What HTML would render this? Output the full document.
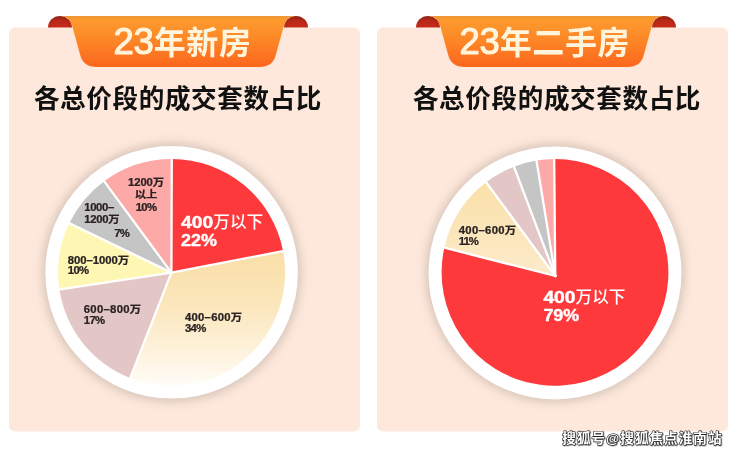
<!DOCTYPE html>
<html lang="zh">
<head>
<meta charset="utf-8">
<title>23年新房 / 23年二手房 各总价段的成交套数占比</title>
<style>
html,body{margin:0;padding:0;background:#fff;}
body{width:740px;height:454px;overflow:hidden;font-family:"Liberation Sans","Noto Sans CJK SC",sans-serif;}
svg{display:block;filter:blur(0.45px);}
text{font-family:"Liberation Sans","Noto Sans CJK SC",sans-serif;}
.bt{font-size:32px;fill:#fff4dc;font-weight:700;letter-spacing:0.6px;}
.bt .dg{font-size:36.5px;font-weight:400;letter-spacing:-0.2px;stroke:#fff4dc;stroke-width:1.1px;stroke-linejoin:round;}
.tt{font-size:25.6px;font-weight:bold;fill:#111;}
.lb{font-size:10.3px;fill:#2a2222;font-weight:bold;stroke:#2a2222;stroke-width:0.25px;}
.lw{font-size:16.6px;fill:#fff;font-weight:500;}
.lw.dg{font-size:16.6px;font-weight:bold;stroke:#fff;stroke-width:0.4px;}
.wm{font-size:13.6px;font-weight:bold;fill:#fff;stroke:#222;stroke-width:1.1px;paint-order:stroke fill;stroke-linejoin:round;letter-spacing:1px;}
</style>
</head>
<body>
<svg width="740" height="454" viewBox="0 0 740 454">
<defs>
<linearGradient id="gb" x1="0" y1="0" x2="0" y2="1">
<stop offset="0" stop-color="#ec9636"/><stop offset="0.07" stop-color="#fc9b2e"/><stop offset="0.5" stop-color="#fd8526"/><stop offset="1" stop-color="#fc661d"/>
</linearGradient>
<radialGradient id="ge" cx="0.5" cy="1" r="1">
<stop offset="0" stop-color="#cc2c1a"/><stop offset="0.6" stop-color="#b82818"/><stop offset="1" stop-color="#8e2414"/>
</radialGradient>
<linearGradient id="gy" gradientUnits="userSpaceOnUse" x1="0" y1="245" x2="0" y2="386">
<stop offset="0" stop-color="#f9dda4"/><stop offset="0.45" stop-color="#fbe7be"/><stop offset="0.8" stop-color="#fef4e0"/><stop offset="1" stop-color="#fffdf8"/>
</linearGradient>
<linearGradient id="gy2" gradientUnits="userSpaceOnUse" x1="0" y1="180" x2="0" y2="276">
<stop offset="0" stop-color="#fae0a8"/><stop offset="1" stop-color="#fcebcb"/>
</linearGradient>
<filter id="sh" x="-20%" y="-20%" width="140%" height="140%">
<feGaussianBlur stdDeviation="5"/>
</filter>
<filter id="ws" x="-5%" y="-20%" width="110%" height="150%">
<feDropShadow dx="0.5" dy="0.5" stdDeviation="0.3" flood-color="#111" flood-opacity="0.8"/>
</filter>
<g id="banner">
<path d="M0,11.5 A12,11.5 0 0 1 24,11.5 Z" fill="url(#ge)"/>
<path d="M260,11.5 A12,11.5 0 0 0 236,11.5 Z" fill="url(#ge)"/>
<path d="M12,0 L248,0 C240,0 237,5 235.500,11 L227.800,39 Q224.800,51 211.500,51 L48.500,51 Q35.200,51 32.200,39 L24.500,11 C23,5 20,0 12,0 Z" fill="url(#gb)"/>
</g>
</defs>
<rect width="740" height="454" fill="#fff"/>
<!-- cards -->
<rect x="9" y="27.500" width="351" height="404" rx="6" fill="#fee8dc"/>
<rect x="377" y="27.500" width="351" height="404" rx="6" fill="#fee8dc"/>
<!-- banners -->
<use href="#banner" x="48" y="16"/>
<use href="#banner" x="416" y="16"/>
<text class="bt" x="113.500" y="53.500"><tspan class="dg">23</tspan>年新房</text>
<text class="bt" x="459.500" y="53.500"><tspan class="dg">23</tspan>年二手房</text>
<text class="tt" x="178" y="108.300" text-anchor="middle" letter-spacing="0.6">各总价段的成交套数占比</text>
<text class="tt" x="557" y="108.300" text-anchor="middle" letter-spacing="0.6">各总价段的成交套数占比</text>
<!-- left pie -->
<circle cx="171.600" cy="272.500" r="129.500" fill="#a39488" opacity="0.42" filter="url(#sh)"/>
<circle cx="171.600" cy="272.300" r="126.300" fill="#fff"/>
<path d="M171.40,272.60 L171.80,158.90 A113.5,113.5 0 0 1 283.09,251.13 Z" fill="#fd393c"/>
<path d="M171.40,272.60 L283.09,251.13 A113.5,113.5 0 0 1 130.19,378.07 Z" fill="url(#gy)"/>
<path d="M171.40,272.60 L130.19,378.07 A113.5,113.5 0 0 1 59.38,289.37 Z" fill="#e3c6c6"/>
<path d="M171.40,272.60 L59.38,289.37 A113.5,113.5 0 0 1 69.33,223.18 Z" fill="#fef7b4"/>
<path d="M171.40,272.60 L69.33,223.18 A113.5,113.5 0 0 1 104.09,181.16 Z" fill="#c6c5c6"/>
<path d="M171.40,272.60 L104.09,181.16 A113.5,113.5 0 0 1 171.80,158.90 Z" fill="#fca9a8"/>
<line x1="171.40" y1="272.60" x2="171.80" y2="157.90" stroke="#fff" stroke-width="2.3" stroke-linecap="round"/>
<line x1="171.40" y1="272.60" x2="284.07" y2="250.94" stroke="#fff" stroke-width="2.3" stroke-linecap="round"/>
<line x1="171.40" y1="272.60" x2="129.82" y2="379.01" stroke="#fff" stroke-width="2.3" stroke-linecap="round"/>
<line x1="171.40" y1="272.60" x2="58.39" y2="289.52" stroke="#fff" stroke-width="2.3" stroke-linecap="round"/>
<line x1="171.40" y1="272.60" x2="68.43" y2="222.75" stroke="#fff" stroke-width="2.3" stroke-linecap="round"/>
<line x1="171.40" y1="272.60" x2="103.49" y2="180.36" stroke="#fff" stroke-width="2.3" stroke-linecap="round"/>
<!-- right pie -->
<circle cx="555" cy="273" r="129.500" fill="#a39488" opacity="0.42" filter="url(#sh)"/>
<circle cx="555" cy="273" r="126.500" fill="#fff"/>
<path d="M555.30,276.00 L554.21,159.00 A113.4,113.4 0 1 1 444.33,247.66 Z" fill="#fd393c"/>
<path d="M555.30,276.00 L444.33,247.66 A113.4,113.4 0 0 1 486.12,182.31 Z" fill="url(#gy2)"/>
<path d="M555.30,276.00 L486.12,182.31 A113.4,113.4 0 0 1 513.99,166.67 Z" fill="#e3c6c6"/>
<path d="M555.30,276.00 L513.99,166.67 A113.4,113.4 0 0 1 536.48,160.52 Z" fill="#c6c5c6"/>
<path d="M555.30,276.00 L536.48,160.52 A113.4,113.4 0 0 1 554.21,159.00 Z" fill="#fca9a8"/>
<line x1="555.30" y1="276.00" x2="554.20" y2="158.00" stroke="#fff" stroke-width="2.3" stroke-linecap="round"/>
<line x1="555.30" y1="276.00" x2="443.36" y2="247.44" stroke="#fff" stroke-width="2.3" stroke-linecap="round"/>
<line x1="555.30" y1="276.00" x2="485.52" y2="181.52" stroke="#fff" stroke-width="2.3" stroke-linecap="round"/>
<line x1="555.30" y1="276.00" x2="513.63" y2="165.74" stroke="#fff" stroke-width="2.3" stroke-linecap="round"/>
<line x1="555.30" y1="276.00" x2="536.32" y2="159.54" stroke="#fff" stroke-width="2.3" stroke-linecap="round"/>
<!-- labels -->
<text class="lw dg" transform="translate(181.1,228.4) scale(1.16,1)">400</text>
<text class="lw cj" x="213.3" y="228.1">万以下</text>
<text class="lw dg" transform="translate(181.1,246.0) scale(1.08,1)">22%</text>
<text class="lb" transform="translate(184.9,320.8) scale(1.1,1)" letter-spacing="0.25">400–600万</text>
<text class="lb" transform="translate(184.9,332) scale(1.1,1)" letter-spacing="-0.6">34%</text>
<text class="lb" transform="translate(83.8,313.4) scale(1.1,1)" letter-spacing="0.25">600–800万</text>
<text class="lb" transform="translate(83.8,323.6) scale(1.1,1)" letter-spacing="-0.6">17%</text>
<text class="lb" transform="translate(67.8,263.8) scale(1.1,1)" letter-spacing="-0.05">800–1000万</text>
<text class="lb" transform="translate(67.8,274.2) scale(1.1,1)" letter-spacing="-0.6">10%</text>
<text class="lb" transform="translate(84.3,211.2) scale(1.1,1)" letter-spacing="-0.35">1000–</text>
<text class="lb" transform="translate(84.3,222.6) scale(1.1,1)" letter-spacing="-0.3">1200万</text>
<text class="lb" transform="translate(114.2,237.2) scale(1.1,1)" letter-spacing="-0.6">7%</text>
<text class="lb" transform="translate(146,186) scale(1.1,1)" letter-spacing="-0.05" text-anchor="middle">1200万</text>
<text class="lb" transform="translate(146,198) scale(1.1,1)" text-anchor="middle">以上</text>
<text class="lb" transform="translate(146,211) scale(1.1,1)" letter-spacing="-0.6" text-anchor="middle">10%</text>
<text class="lw dg" transform="translate(543.4,303) scale(1.16,1)">400</text>
<text class="lw cj" x="575.6" y="302.7">万以下</text>
<text class="lw dg" transform="translate(543.4,320.6) scale(1.08,1)">79%</text>
<text class="lb" transform="translate(458.8,233.8) scale(1.1,1)" letter-spacing="0.25">400–600万</text>
<text class="lb" transform="translate(458.8,245) scale(1.1,1)" letter-spacing="-0.9">11%</text>
<!-- watermark -->
<text class="wm" x="562.300" y="442.800" filter="url(#ws)">搜狐号@搜狐焦点淮南站</text>
</svg>
</body>
</html>
